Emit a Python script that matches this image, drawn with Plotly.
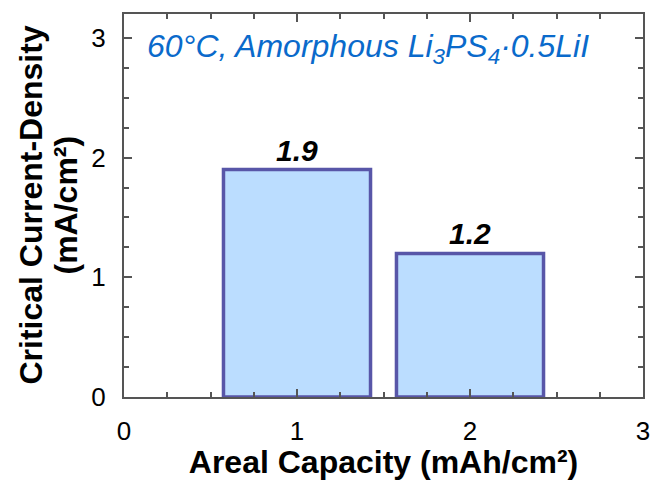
import plotly.graph_objects as go

capacity = [1, 2]
ccd = [1.9, 1.2]
labels = ["1.9", "1.2"]
x_ticks = [0, 1, 2, 3]
y_ticks = [0, 1, 2, 3]

FONT = "Liberation Sans, Arial, sans-serif"

fig = go.Figure()
fig.add_trace(go.Bar(
    x=capacity, y=ccd, width=0.85,
    marker=dict(color="#BBDDFF", line=dict(color="#5856A8", width=3.5)),
    text=["<b><i>%s</i></b>" % t for t in labels],
    textposition="outside",
    textfont=dict(family=FONT, size=30, color="black"),
    cliponaxis=False,
))

axis_common = dict(
    showline=True, linecolor="#555555", linewidth=2, mirror="ticks",
    ticks="inside", ticklen=8, tickwidth=1.5, tickcolor="#555555",
    showgrid=False, zeroline=False, automargin=False,
    tickfont=dict(family=FONT, size=26, color="black"),
    minor=dict(ticks="inside", ticklen=5, tickwidth=1.5, tickcolor="#555555", dtick=0.25),
)

fig.update_layout(
    width=652, height=480,
    margin=dict(l=124, r=9, t=14, b=83, autoexpand=False),
    plot_bgcolor="white", paper_bgcolor="white",
    showlegend=False,
    xaxis=dict(range=[0, 3], tickvals=x_ticks, ticklabelstandoff=10,
               title=dict(text="<b>Areal Capacity (mAh/cm²)</b>", standoff=2,
                          font=dict(family=FONT, size=32, color="black")),
               **axis_common),
    yaxis=dict(range=[0, 3.2], tickvals=y_ticks, ticklabelstandoff=11,
               **axis_common),
    annotations=[
        dict(x=0.04, y=0.91, xref="paper", yref="paper", xanchor="left", yanchor="middle",
             showarrow=False,
             text="<i>60°C, Amorphous Li<sub>3</sub>PS<sub>4</sub>·0.5LiI</i>",
             font=dict(family=FONT, size=32, color="#0A6ACB")),
        dict(x=30, y=0.5, xref="paper", yref="paper", showarrow=False, textangle=-90,
             xanchor="center", yanchor="middle",
             text="<b>Critical Current-Density</b>",
             font=dict(family=FONT, size=32, color="black")),
        dict(x=65, y=0.5, xref="paper", yref="paper", showarrow=False, textangle=-90,
             xanchor="center", yanchor="middle",
             text="<b>(mA/cm²)</b>",
             font=dict(family=FONT, size=32, color="black")),
    ],
)
# convert pixel x positions of y-title lines to paper coords
plot_w = 652 - 124 - 9
for a in fig.layout.annotations[1:]:
    a.x = (a.x - 124) / plot_w

fig.write_html("out.html")
